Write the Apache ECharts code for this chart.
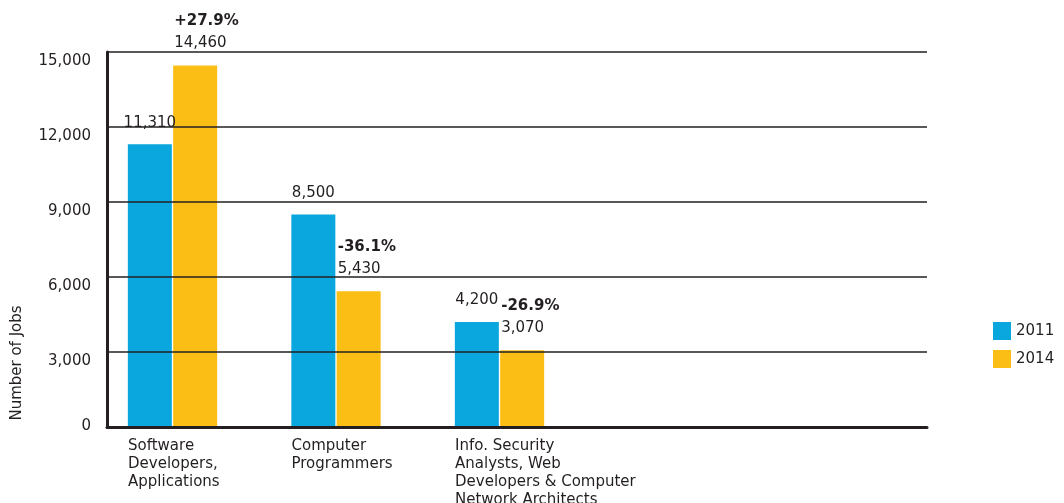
<!DOCTYPE html>
<html>
<head>
<meta charset="utf-8">
<script src="https://cdn.jsdelivr.net/npm/echarts@6/dist/echarts.min.js"></script>
<style>
  html, body { margin: 0; padding: 0; background: #ffffff; }
  #chart { width: 1064px; height: 503px; }
</style>
</head>
<body>
<div id="chart"></div>
<script>
// Occupations and job counts
const categories = [
  'Software\nDevelopers,\nApplications',
  'Computer\nProgrammers',
  'Info. Security\nAnalysts, Web\nDevelopers & Computer\nNetwork Architects'
];
const jobs2011 = [11310, 8500, 4200];
const jobs2014 = [14460, 5430, 3070];
const seriesNames = ['2011', '2014'];

// Value axis range
const yMin = 0;
const yMax = 15000;
const yStep = 3000;

const INK = '#231f20';
const BLUE = '#0aa6de';
const YELLOW = '#fbbe14';
const FONT = 'DejaVu Sans';

const fmt = v => echarts.format.addCommas(v);
const pctChange = i => {
  const p = (jobs2014[i] - jobs2011[i]) / jobs2011[i] * 100;
  return (p >= 0 ? '+' : '-') + Math.abs(p).toFixed(1) + '%';
};

const chart = echarts.init(document.getElementById('chart'), null, { renderer: 'canvas' });

chart.setOption({
  animation: false,
  backgroundColor: '#ffffff',
  textStyle: { fontFamily: FONT, color: INK },
  grid: [
    // frame: gridlines and axis lines
    { left: 107, right: 137, top: 52, bottom: 76, outerBoundsMode: 'none', containLabel: false },
    // bars and category labels
    { left: 90.75, right: 482.75, top: 52, bottom: 76, outerBoundsMode: 'none', containLabel: false }
  ],
  legend: {
    orient: 'vertical',
    left: 993,
    top: 322,
    padding: 0,
    itemWidth: 18,
    itemHeight: 18,
    itemGap: 10,
    icon: 'rect',
    data: seriesNames,
    textStyle: { fontFamily: FONT, fontSize: 15, color: INK }
  },
  xAxis: [
    {
      gridIndex: 0, type: 'value', min: 0, max: 1, z: 5,
      axisLine: { show: true, onZero: false, lineStyle: { color: INK, width: 3 } },
      axisTick: { show: false }, axisLabel: { show: false }, splitLine: { show: false }
    },
    {
      gridIndex: 1, type: 'category', data: categories,
      axisLine: { show: false }, axisTick: { show: false }, splitLine: { show: false },
      axisLabel: {
        interval: 0,
        margin: 10,
        align: 'center',
        width: 89,
        formatter: v => '{c|' + v + '}',
        rich: {
          c: { align: 'left', fontFamily: FONT, fontSize: 15, lineHeight: 18, color: INK }
        }
      }
    }
  ],
  yAxis: [
    {
      gridIndex: 0, type: 'value', min: yMin, max: yMax, interval: yStep, z: 5,
      axisLine: { show: true, lineStyle: { color: INK, width: 3 } },
      axisTick: { show: false },
      axisLabel: {
        margin: 16,
        // tick values sit just below their gridline; zero sits on the baseline
        formatter: v => (v === 0 ? '{z|0}' : '{n|' + fmt(v) + '}'),
        rich: {
          n: { fontFamily: FONT, fontSize: 15, color: INK, padding: [19, 0, 0, 0] },
          z: { fontFamily: FONT, fontSize: 15, color: INK, padding: [0, 0, 1, 0] }
        }
      },
      splitLine: { show: true, lineStyle: { color: INK, width: 1.5 } }
    },
    {
      gridIndex: 1, type: 'value', min: yMin, max: yMax, interval: yStep, show: false,
      splitLine: { show: false }
    }
  ],
  series: [
    {
      name: seriesNames[0], type: 'bar', xAxisIndex: 1, yAxisIndex: 1,
      data: jobs2011, barWidth: 44, barGap: '3%',
      itemStyle: { color: BLUE },
      label: {
        show: true, position: 'top', distance: 14,
        fontFamily: FONT, fontSize: 15, color: INK,
        formatter: p => fmt(p.value)
      }
    },
    {
      name: seriesNames[1], type: 'bar', xAxisIndex: 1, yAxisIndex: 1,
      data: jobs2014, barWidth: 44, barGap: '3%',
      itemStyle: { color: YELLOW },
      label: {
        show: true, position: [1, -12], align: 'left', verticalAlign: 'bottom',
        formatter: p => '{p|' + pctChange(p.dataIndex) + '}\n{v|' + fmt(p.value) + '}',
        rich: {
          p: { align: 'left', fontFamily: FONT, fontSize: 15, fontWeight: 'bold', color: INK, lineHeight: 24 },
          v: { align: 'left', fontFamily: FONT, fontSize: 15, color: INK, lineHeight: 20 }
        }
      }
    }
  ],
  graphic: [
    {
      type: 'text',
      x: 17, y: 363,
      rotation: Math.PI / 2,
      style: {
        text: 'Number of Jobs',
        fontFamily: FONT, fontSize: 15, fill: INK,
        align: 'center', verticalAlign: 'middle'
      }
    }
  ]
});
</script>
</body>
</html>
